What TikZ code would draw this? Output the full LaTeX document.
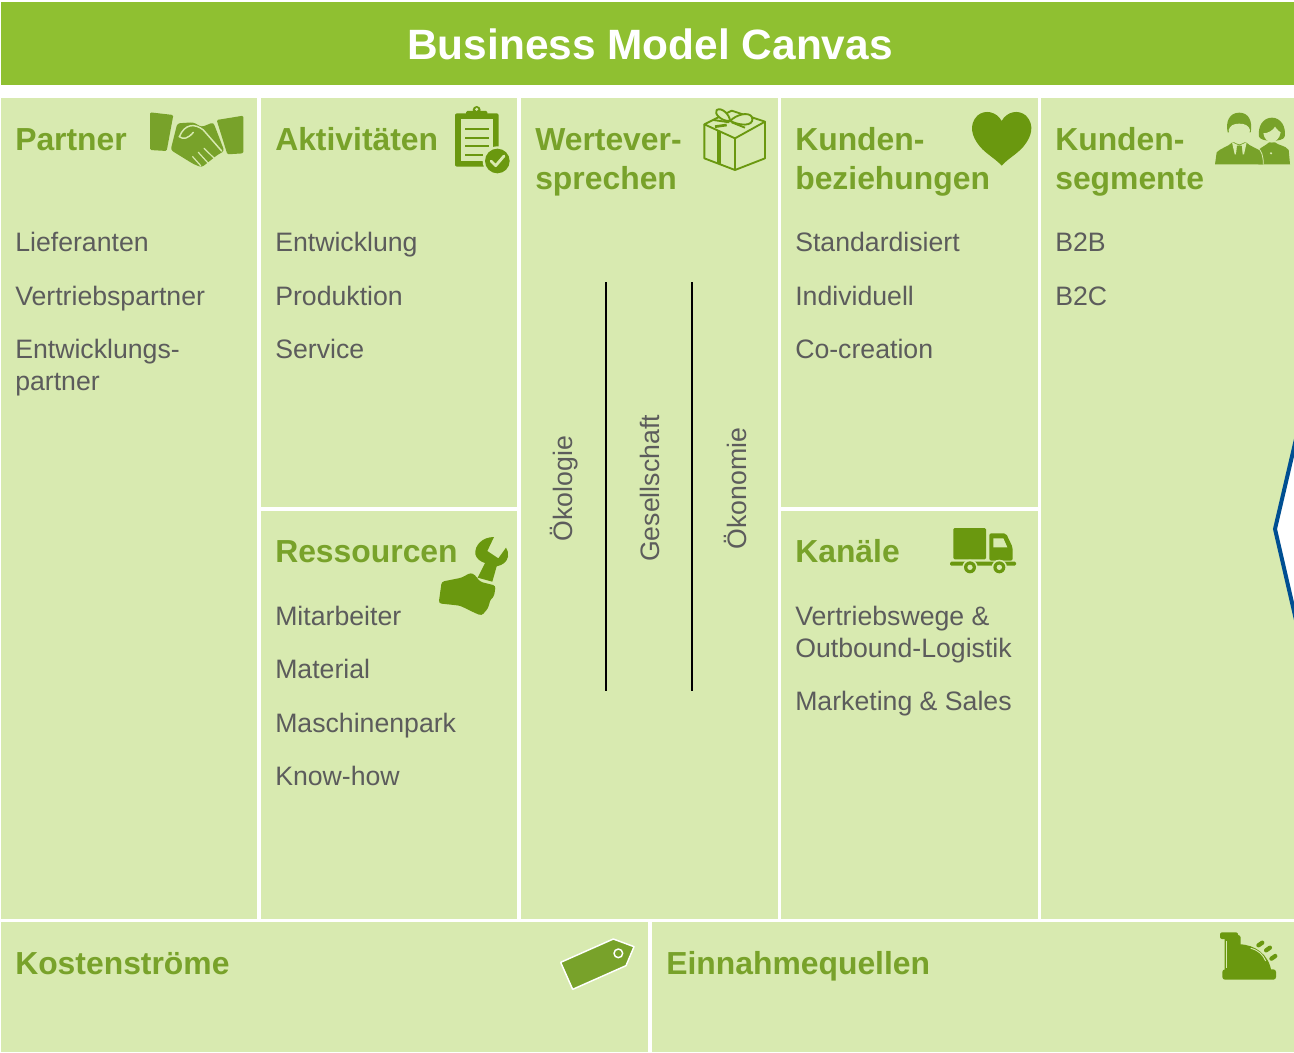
\documentclass[tikz,border=0pt]{standalone}
\usepackage{fontspec}
\setmainfont{Liberation Sans}
\definecolor{cellgreen}{HTML}{D8EAB0}
\definecolor{titlegreen}{HTML}{8FC031}
\definecolor{headgreen}{HTML}{78A22A}
\definecolor{icongreen}{HTML}{6A980F}
\definecolor{bodygrey}{HTML}{5C5C5C}
\definecolor{blueline}{HTML}{004F92}
\tikzset{
  cell/.style={fill=cellgreen,draw=none},
  headtxt/.style={anchor=base west,inner sep=0pt,text=headgreen,font=\fontsize{23.9}{29}\selectfont\bfseries},
  bodytxt/.style={anchor=base west,inner sep=0pt,text=bodygrey,font=\fontsize{20}{24}\selectfont},
  rottxt/.style={anchor=base,rotate=90,inner sep=0pt,text=bodygrey,font=\fontsize{20}{24}\selectfont},
  divider/.style={draw=black,line width=1.5pt},
  zoomed/.style={x=0.25pt,y=-0.25pt},
  lightline/.style={draw=cellgreen,line cap=round,line join=round},
}
\begin{document}
\begin{tikzpicture}[x=0.75pt,y=-0.75pt]
\useasboundingbox (0,0) rectangle (1294,1052);
\fill[white] (0,0) rectangle (1294,1052);
% title
\fill[titlegreen] (1,2) rectangle (1294,85);
\node[anchor=base,inner sep=0pt,text=white,font=\fontsize{31.8}{38}\selectfont\bfseries] (title) at (650,60) {Business Model Canvas};
% cells
\fill[cell] (1,98) rectangle (257,919);
\fill[cell] (261,98) rectangle (517,507);
\fill[cell] (261,511) rectangle (517,919);
\fill[cell] (521,98) rectangle (778,919);
\fill[cell] (781,98) rectangle (1038,507);
\fill[cell] (781,511) rectangle (1038,919);
\fill[cell] (1041,98) rectangle (1294,919);
\fill[cell] (1,922) rectangle (648,1052);
\fill[cell] (652,922) rectangle (1294,1052);
% headings
\node[headtxt] (h1) at (15,151) {Partner};
\node[headtxt] (h2) at (275,151) {Aktivitäten};
\node[headtxt] (h3a) at (535,151) {Wertever-};
\node[headtxt] (h3b) at (535,190) {sprechen};
\node[headtxt] (h4a) at (795,151) {Kunden-};
\node[headtxt] (h4b) at (795,190) {beziehungen};
\node[headtxt] (h5a) at (1055,151) {Kunden-};
\node[headtxt] (h5b) at (1055,190) {segmente};
\node[headtxt] (h6) at (275,562) {Ressourcen};
\node[headtxt] (h7) at (795,562) {Kanäle};
\node[headtxt] (h8) at (15,974) {Kostenströme};
\node[headtxt] (h9) at (666,974) {Einnahmequellen};
% body
\node[bodytxt] (a1) at (15,251) {Lieferanten};
\node[bodytxt] (a2) at (15,305) {Vertriebspartner};
\node[bodytxt] (a3) at (15,358) {Entwicklungs-};
\node[bodytxt] (a4) at (15,390) {partner};
\node[bodytxt] (b1) at (275,251) {Entwicklung};
\node[bodytxt] (b2) at (275,305) {Produktion};
\node[bodytxt] (b3) at (275,358) {Service};
\node[bodytxt] (c1) at (275,625) {Mitarbeiter};
\node[bodytxt] (c2) at (275,678) {Material};
\node[bodytxt] (c3) at (275,732) {Maschinenpark};
\node[bodytxt] (c4) at (275,785) {Know-how};
\node[bodytxt] (d1) at (795,251) {Standardisiert};
\node[bodytxt] (d2) at (795,305) {Individuell};
\node[bodytxt] (d3) at (795,358) {Co-creation};
\node[bodytxt] (e1) at (795,625) {Vertriebswege \&};
\node[bodytxt] (e2) at (795,657) {Outbound-Logistik};
\node[bodytxt] (e3) at (795,710) {Marketing \& Sales};
\node[bodytxt] (f1) at (1055,251) {B2B};
\node[bodytxt] (f2) at (1055,305) {B2C};
% value column
\node[rottxt] (v1) at (572,488.5) {Ökologie};
\node[rottxt] (v2) at (659.5,488.5) {Gesellschaft};
\node[rottxt] (v3) at (746,488.5) {Ökonomie};
\coordinate (l1t) at (606,282); \coordinate (l1b) at (606,691);
\coordinate (l2t) at (692,282); \coordinate (l2b) at (692,691);
\draw[divider] (l1t) -- (l1b);
\draw[divider] (l2t) -- (l2b);
% blue chevron
\fill[white] (1296,440) -- (1275,530) -- (1296,620) -- cycle;
\draw[blueline,line width=3pt,line join=miter] (1296,439) -- (1275,529) -- (1296,620);
% handshake
\begin{scope}[shift={(130,95)},zoomed]
\fill[headgreen,rounded corners=1pt] (60,52) -- (130,60) -- (110,168) -- (60,165) -- cycle;
\fill[headgreen,rounded corners=1pt] (260,75) -- (340,62) -- (340,175) -- (292,178) -- cycle;
\fill[headgreen,rounded corners=2pt] (142,85) -- (190,82) -- (215,96) -- (250,82) -- (283,168) -- (262,180) -- (215,217) -- (190,207) -- (122,165) -- cycle;
\draw[lightline,line width=1.1pt] (148,125) .. controls (165,85) and (195,85) .. (220,105) -- (275,168);
\draw[lightline,line width=1.1pt] (148,125) .. controls (160,135) and (175,130) .. (190,112);
\draw[lightline,line width=0.9pt] (222,160) -- (255,192);
\draw[lightline,line width=0.9pt] (205,172) -- (235,205);
\draw[lightline,line width=0.9pt] (188,185) -- (212,212);
\end{scope}
% clipboard
\begin{scope}[shift={(130,95)},zoomed]
\fill[icongreen,rounded corners=1.5pt] (975,55) rectangle (1106,215);
\fill[cellgreen] (992,72) rectangle (1089,198);
\fill[icongreen,rounded corners=1pt] (1008,48) rectangle (1072,70);
\fill[icongreen] (1040,45) circle[radius=12];
\fill[cellgreen] (1040,43) circle[radius=5];
\foreach \yy/\xe in {102/1078,128/1078,154/1078,180/1058}
  \draw[icongreen,line width=1.6pt] (1005,\yy) -- (\xe,\yy);
\fill[cellgreen] (1102,198) circle[radius=44];
\fill[icongreen] (1102,198) circle[radius=37];
\draw[cellgreen,line width=2.1pt,line cap=round,line join=round] (1083,198) -- (1097,212) -- (1122,183);
\end{scope}
% gift
\begin{scope}[shift={(690,95)},zoomed,line join=round]
\draw[icongreen,line width=1.4pt] (43,88) -- (125,47) -- (225,80) -- (135,130) -- cycle;
\draw[icongreen,line width=1.4pt] (43,88) -- (43,190) -- (135,225) -- (225,190) -- (225,80);
\draw[icongreen,line width=1.4pt] (135,130) -- (135,225);
\draw[icongreen,line width=3pt] (88,108) -- (88,206);
\draw[icongreen,line width=1.4pt,fill=cellgreen] (120,78) .. controls (95,80) and (70,55) .. (80,45) .. controls (95,35) and (120,60) .. cycle;
\draw[icongreen,line width=1.4pt,fill=cellgreen] (120,78) .. controls (140,58) and (175,50) .. (185,65) .. controls (195,85) and (170,100) .. (120,78) -- cycle;
\draw[icongreen,line width=1.4pt] (118,82) -- (70,75);
\draw[icongreen,line width=1.4pt] (125,82) -- (165,98);
\draw[icongreen,line width=2pt] (75,95) -- (110,90);
% heart
\fill[icongreen] (935,78) .. controls (950,50) and (985,42) .. (1008,62)
  .. controls (1035,90) and (1025,125) .. (1000,155)
  .. controls (980,178) and (955,190) .. (935,212)
  .. controls (915,190) and (890,178) .. (870,155)
  .. controls (845,125) and (835,90) .. (862,62)
  .. controls (885,42) and (920,50) .. (935,78) -- cycle;
\end{scope}
% people
\begin{scope}[shift={(1200,95)},zoomed,line join=round]
% woman
\fill[headgreen] (175,208) -- (175,165) .. controls (190,152) and (200,150) .. (207,142) -- (225,142) .. controls (235,152) and (255,150) .. (266,165) -- (270,208) -- cycle;
\fill[headgreen] (216,68) .. controls (188,68) and (173,95) .. (177,125) .. controls (182,142) and (250,142) .. (254,125) .. controls (259,95) and (242,68) .. (216,68) -- cycle;
\fill[cellgreen] (190,115) .. controls (205,115) and (220,105) .. (225,95) .. controls (232,105) and (238,110) .. (242,112) .. controls (240,130) and (225,142) .. (215,142) .. controls (203,142) and (192,130) .. (190,115) -- cycle;
\fill[cellgreen] (213,175) circle[radius=3.5];
% man
\fill[headgreen] (45,208) -- (50,172) .. controls (60,160) and (85,155) .. (97,142) -- (138,142) .. controls (150,155) and (175,160) .. (185,172) -- (190,208) -- cycle;
\fill[headgreen] (118,53) .. controls (88,53) and (76,80) .. (83,112) -- (152,112) .. controls (158,80) and (147,53) .. (118,53) -- cycle;
\fill[cellgreen] (86,105) .. controls (90,92) and (100,86) .. (118,86) .. controls (135,86) and (146,92) .. (150,105) .. controls (150,125) and (133,148) .. (118,148) .. controls (103,148) and (86,125) .. (86,105) -- cycle;
\fill[cellgreen] (96,142) -- (118,152) -- (140,142) -- (132,178) -- (104,178) -- cycle;
\fill[headgreen] (111,152) -- (125,152) -- (128,178) -- (118,195) -- (108,178) -- cycle;
\draw[cellgreen,line width=0.6pt] (172,158) .. controls (185,165) and (190,185) .. (190,208);
\end{scope}
% wrench and hand
\begin{scope}[shift={(430,525)},zoomed,line join=round]
\fill[icongreen] (192,36) .. controls (158,36) and (133,60) .. (136,88) .. controls (140,102) and (152,110) .. (165,114) -- (143,158) -- (187,170) -- (200,124) .. controls (218,120) and (230,112) .. (234,95) .. controls (236,85) and (233,75) .. (228,68) -- (205,100) -- (172,78) -- cycle;
\fill[icongreen,rounded corners=2pt] (35,170) -- (95,158) -- (122,143) -- (135,150) -- (150,170) -- (197,182) -- (192,215) -- (182,222) -- (174,250) -- (155,272) -- (135,264) -- (90,242) -- (26,235) -- cycle;
\end{scope}
% truck
\begin{scope}[shift={(940,520)},zoomed,line join=round]
\fill[icongreen,rounded corners=1pt] (40,24) rectangle (138,118);
\fill[icongreen,rounded corners=1.5pt] (148,40) -- (198,40) -- (218,82) -- (218,122) -- (148,122) -- cycle;
\fill[cellgreen] (160,55) -- (190,55) -- (202,82) -- (160,82) -- cycle;
\fill[icongreen,rounded corners=1pt] (30,125) rectangle (228,137);
\foreach \xx in {90,178}{
  \fill[cellgreen] (\xx,142) circle[radius=23];
  \fill[icongreen] (\xx,142) circle[radius=18];
  \fill[cellgreen] (\xx,142) circle[radius=8];
}
\end{scope}
% price tag
\begin{scope}[shift={(550,925)},zoomed,line join=round]
\fill[headgreen,draw=white,line width=1.1pt] (32,112) -- (190,42) -- (252,65) -- (228,122) -- (68,193) -- cycle;
\draw[white,line width=1.1pt] (205,85) circle[radius=13];
\end{scope}
% cash register
\begin{scope}[shift={(1210,925)},zoomed,line join=round]
\fill[icongreen,rounded corners=2pt] (44,30) rectangle (92,140);
\fill[icongreen,rounded corners=1.5pt] (30,22) rectangle (84,42);
\fill[icongreen] (88,58) .. controls (135,58) and (178,90) .. (184,140) -- (80,140) -- cycle;
\fill[icongreen,rounded corners=2pt] (37,133) rectangle (198,164);
\draw[cellgreen,line width=0.6pt] (50,48) -- (50,130);
\draw[cellgreen,line width=0.7pt] (122,70) .. controls (145,75) and (160,90) .. (167,108);
\foreach \xx/\yy in {151/57,174/72,190/97}
  \draw[icongreen,line width=3.2pt,line cap=round,rotate around={35:(\xx,\yy)}] (\xx-7,\yy) -- (\xx+7,\yy);
\end{scope}
\end{tikzpicture}
\end{document}
